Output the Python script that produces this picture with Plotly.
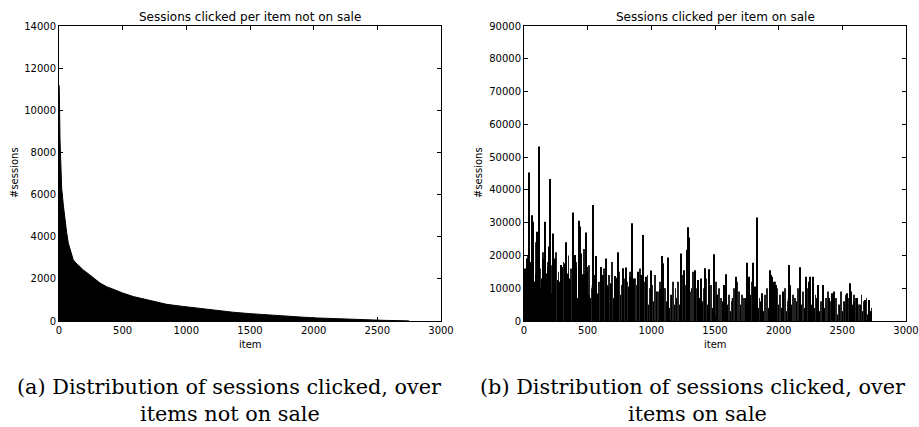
import plotly.graph_objects as go

# ---- Left panel: sessions clicked per item not on sale (sorted, decreasing)
left_items = [0, 2, 8, 15, 21, 34, 47, 60, 73, 86, 99, 112, 126, 150, 191, 243, 296,
              322, 374, 453, 500, 584, 715, 846, 977, 1107, 1238, 1369, 1500, 1631,
              1762, 1893, 2024, 2154, 2285, 2416, 2547, 2678, 2750]
left_values = [11200, 11000, 8600, 7200, 6300, 5500, 4700, 4200, 3700, 3400, 3100, 2900,
               2800, 2650, 2420, 2180, 1900, 1800, 1630, 1420, 1330, 1160, 960, 790, 690,
               590, 500, 415, 350, 285, 235, 190, 145, 110, 80, 50, 32, 16, 5]

# ---- Right panel: sessions clicked per item on sale
base_items = list(range(0, 2740, 20))
base_values = [11000, 9000, 14000, 7000, 12000, 10000, 8000, 13000, 6000, 10000,
               9000, 12000, 8000, 10000, 9000, 11000, 7000, 9000, 13000, 8000,
               10000, 7000, 12000, 8000, 5000, 9000, 7000, 11000, 6000, 8000,
               9000, 6000, 10000, 5000, 8000, 7000, 9000, 4000, 8000, 6000,
               7000, 9000, 5000, 8000, 6000, 10000, 4000, 7000, 9000, 5000,
               8000, 6000, 9000, 5000, 7000, 10000, 6000, 4000, 8000, 5000,
               7000, 5000, 9000, 6000, 8000, 5000, 10000, 6000, 4000, 7000,
               6000, 8000, 5000, 7000, 4000, 6000, 8000, 3000, 6000, 7000,
               5000, 3000, 7000, 8000, 6000, 5000, 4000, 7000, 6000, 8000,
               5000, 7000, 4000, 6000, 3000, 5000, 4000, 6000, 8000, 7000,
               5000, 4000, 6000, 3000, 7000, 5000, 4000, 6000, 3000, 5000,
               4000, 6000, 3000, 5000, 4000, 7000, 3000, 5000, 4000, 6000,
               3000, 5000, 4000, 2000, 5000, 3000, 6000, 4000, 3000, 5000,
               4000, 2000, 5000, 3000, 4000, 2000, 3000]

mid_items = list(range(10, 2740, 20))
mid_values = [14000, 20000, 11000, 17000, 24000, 13000, 16000, 21000, 12000, 18000,
              17000, 13000, 21000, 15000, 12000, 18000, 14000, 20000, 16000, 11000,
              18000, 13000, 15000, 22000, 12000, 17000, 10000, 14000, 19000, 12000,
              13000, 16000, 11000, 14000, 18000, 10000, 12000, 15000, 11000, 13000,
              12000, 15000, 10000, 13000, 11000, 16000, 9000, 12000, 14000, 10000,
              11000, 14000, 9000, 12000, 16000, 10000, 13000, 8000, 12000, 10000,
              12000, 9000, 14000, 11000, 13000, 9000, 15000, 10000, 8000, 12000,
              10000, 13000, 9000, 11000, 8000, 12000, 10000, 7000, 11000, 9000,
              8000, 6000, 10000, 12000, 9000, 8000, 7000, 11000, 9000, 12000,
              9000, 11000, 7000, 6000, 8000, 10000, 7000, 9000, 12000, 10000,
              8000, 7000, 10000, 6000, 11000, 8000, 7000, 10000, 6000, 9000,
              7000, 10000, 6000, 9000, 8000, 11000, 6000, 8000, 7000, 9000,
              6000, 8000, 7000, 5000, 9000, 6000, 8000, 7000, 6000, 8000,
              7000, 5000, 8000, 6000, 7000, 5000, 4000]

spike_items = [5, 12, 21, 30, 37, 42, 50, 60, 67, 73, 85, 92, 100, 106, 114, 120, 136,
               149, 162, 178, 186, 199, 202, 215, 230, 246, 264, 277, 290, 301, 325,
               330, 343, 364, 382, 398, 411, 432, 440, 448, 458, 471, 490, 497, 510,
               542, 558, 568, 584, 602, 620, 644, 660, 681, 717, 730, 741, 780, 801,
               822, 835, 851, 861, 893, 919, 935, 960, 997, 1070, 1086, 1096, 1128,
               1233, 1236, 1254, 1283, 1288, 1298, 1340, 1364, 1392, 1424, 1450, 1492,
               1518, 1568, 1586, 1667, 1754, 1767, 1801, 1814, 1832, 1866, 1929, 1942,
               1950, 1963, 1979, 2033, 2080, 2093, 2170, 2212, 2235, 2246, 2270, 2309,
               2346, 2398, 2419, 2437, 2540, 2560, 2570, 2591, 2613, 2675, 2709, 2728]
spike_values = [16000, 15500, 19100, 17000, 32300, 45300, 18000, 32300, 14500, 30300,
                10000, 14500, 27200, 19100, 18600, 53200, 10000, 19100, 30300, 14500,
                16500, 22700, 43300, 8400, 26700, 19100, 12500, 12000, 17100, 16500,
                17600, 24000, 14500, 12500, 33100, 20100, 16500, 30600, 28800, 20600,
                14300, 14300, 27000, 16500, 7900, 35400, 14000, 19800, 8400, 16500,
                14000, 19100, 10500, 11500, 13700, 13200, 21000, 16100, 16300, 10500,
                13500, 29800, 13000, 15000, 14000, 26200, 13500, 15400, 9800, 19800,
                17600, 19400, 20600, 14000, 15500, 21700, 28600, 25500, 15500, 12500,
                13000, 16100, 15800, 20400, 8000, 11000, 14300, 13500, 17800, 13500,
                17800, 10500, 31600, 8500, 15500, 14000, 13500, 12000, 11000, 9000,
                17100, 10500, 16400, 13500, 12000, 13500, 13500, 11000, 11000, 7000,
                8500, 9000, 8500, 11500, 9000, 6000, 7000, 6400, 6400, 3000]

left_title = "Sessions clicked per item not on sale"
right_title = "Sessions clicked per item on sale"
x_ticks = [0, 500, 1000, 1500, 2000, 2500, 3000]
left_y_ticks = list(range(0, 14001, 2000))
right_y_ticks = list(range(0, 90001, 10000))
caption_a = ["(a) Distribution of sessions clicked, over", "items not on sale"]
caption_b = ["(b) Distribution of sessions clicked, over", "items on sale"]

W, H = 919, 427
fig = go.Figure()

fig.add_trace(go.Scatter(x=left_items, y=left_values, mode="lines", fill="tozeroy",
                         line=dict(color="black", width=1), fillcolor="black",
                         xaxis="x", yaxis="y", showlegend=False, hoverinfo="skip"))
fig.add_trace(go.Bar(x=base_items, y=base_values, width=17,
                     marker=dict(color="black", line=dict(width=0)),
                     xaxis="x2", yaxis="y2", showlegend=False))
fig.add_trace(go.Bar(x=mid_items, y=mid_values, width=6,
                     marker=dict(color="#222222", line=dict(width=0)),
                     xaxis="x2", yaxis="y2", showlegend=False))
fig.add_trace(go.Bar(x=spike_items, y=spike_values, width=7,
                     marker=dict(color="black", line=dict(width=0)),
                     xaxis="x2", yaxis="y2", showlegend=False))

tickfont = dict(family="DejaVu Sans", size=10, color="black")
axis_common = dict(showline=True, linecolor="black", linewidth=1, mirror="ticks",
                   ticks="inside", ticklen=4, tickcolor="black", showgrid=False,
                   zeroline=False, tickfont=tickfont, tickformat="d", automargin=False)

ytop, ybot = 26, 321
ydom = [(H - ybot) / H, (H - ytop) / H]
lx = [59 / W, 441 / W]
rx = [524 / W, 906 / W]

fig.update_layout(
    width=W, height=H, margin=dict(l=0, r=0, t=0, b=0),
    paper_bgcolor="white", plot_bgcolor="white", barmode="overlay",
    xaxis=dict(domain=lx, range=[0, 3000], tickvals=x_ticks, anchor="y", **axis_common),
    yaxis=dict(domain=ydom, range=[0, 14000], tickvals=left_y_ticks, anchor="x", **axis_common),
    xaxis2=dict(domain=rx, range=[0, 3000], tickvals=x_ticks, anchor="y2", **axis_common),
    yaxis2=dict(domain=ydom, range=[0, 90000], tickvals=right_y_ticks, anchor="x2", **axis_common),
)

ann = []
def txt(x, y, s, size, family="DejaVu Sans", angle=0):
    ann.append(dict(x=x / W, y=1 - y / H, xref="paper", yref="paper", text=s,
                    showarrow=False, xanchor="center", yanchor="middle", textangle=angle,
                    font=dict(family=family, size=size, color="black")))

txt(250, 17, left_title, 12)
txt(715, 17, right_title, 12)
txt(14, 173, "#sessions", 10, angle=-90)
txt(478, 173, "#sessions", 10, angle=-90)
txt(250, 344, "item", 10)
txt(715, 344, "item", 10)
txt(229, 387, caption_a[0], 20.8, family="DejaVu Serif")
txt(230, 414, caption_a[1], 20.8, family="DejaVu Serif")
txt(692, 387, caption_b[0], 20.8, family="DejaVu Serif")
txt(697, 414, caption_b[1], 20.8, family="DejaVu Serif")
fig.update_layout(annotations=ann)

fig.write_html("out.html")
